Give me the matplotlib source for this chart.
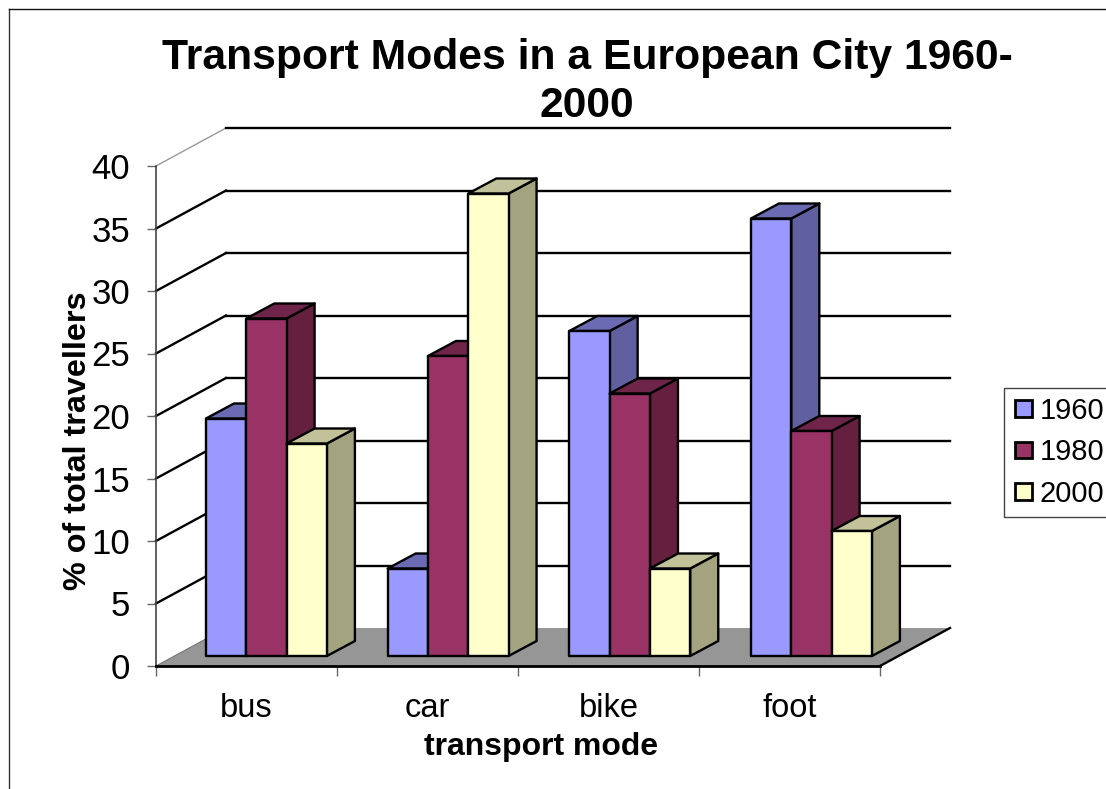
import matplotlib
matplotlib.use("Agg")
import matplotlib.pyplot as plt
from matplotlib.legend_handler import HandlerPatch
from matplotlib.lines import Line2D
from matplotlib.patches import Patch, Polygon, Rectangle

modes = ["bus", "car", "bike", "foot"]
years = ["1960", "1980", "2000"]
v1960 = [19, 7, 26, 35]
v1980 = [27, 24, 21, 18]
v2000 = [17, 37, 7, 10]
yticks = [0, 5, 10, 15, 20, 25, 30, 35, 40]

front_colors = ["#9999FF", "#993366", "#FFFFCC"]
side_colors = ["#6060A0", "#66203F", "#A3A37F"]
top_colors = ["#6B6BB3", "#6F2449", "#C2C29A"]

W, H = 1106, 789
plt.rcParams["font.family"] = ["Liberation Sans", "DejaVu Sans"]

fig = plt.figure(figsize=(W / 100, H / 100), dpi=100)
ax = fig.add_axes([156 / W, 1 - 666 / H, (880 - 156) / W, 500 / H])
ax.set_xlim(0, len(modes))
ax.set_ylim(0, 40)
ax.patch.set_alpha(0)

# depth offsets of the fake 3D box, in data units
wall_dx, wall_dy = 70 / 181, 38 / 12.5
bar_dx0, bar_dy0 = 18 / 181, 10 / 12.5
bar_dx, bar_dy = 28 / 181, 15 / 12.5
gap = 32 / 181
bar_w = 40.3 / 181
pitch = 181.67 / 181
lw = 1.7

n = len(modes)
floor = [(0, 0), (n, 0), (n + wall_dx, wall_dy), (wall_dx, wall_dy)]
ax.add_patch(Polygon(floor, closed=True, fc="#969696", ec="none", clip_on=False, zorder=1))
ax.plot([0, wall_dx], [0, wall_dy], color="#777777", lw=0.8, clip_on=False, zorder=1.2)
ax.plot([n, n + wall_dx], [0, wall_dy], color="black", lw=lw, clip_on=False, zorder=1.2)

for t in yticks[1:]:
    c = "#999999" if t == 40 else "black"
    ax.plot([0, wall_dx], [t, t + wall_dy], color=c, lw=1.0 if t == 40 else lw, clip_on=False, zorder=1.5)
    ax.plot([wall_dx, n + wall_dx], [t + wall_dy, t + wall_dy], color="black", lw=lw, clip_on=False, zorder=1.5)

z = 3
for i in range(n):
    for j, vals in enumerate([v1960, v1980, v2000]):
        x0 = i * pitch + bar_dx0 + gap + j * bar_w
        y0 = bar_dy0
        x1 = x0 + bar_w
        y1 = y0 + vals[i]
        side = [(x1, y0), (x1 + bar_dx, y0 + bar_dy), (x1 + bar_dx, y1 + bar_dy), (x1, y1)]
        top = [(x0, y1), (x1, y1), (x1 + bar_dx, y1 + bar_dy), (x0 + bar_dx, y1 + bar_dy)]
        front = [(x0, y0), (x1, y0), (x1, y1), (x0, y1)]
        for pts, col in [(side, side_colors[j]), (top, top_colors[j]), (front, front_colors[j])]:
            ax.add_patch(Polygon(pts, closed=True, fc=col, ec="black", lw=lw, joinstyle="round",
                                 clip_on=False, zorder=z))
        z += 0.1

for s in ["top", "right"]:
    ax.spines[s].set_visible(False)
ax.spines["left"].set_color("#444444")
ax.spines["left"].set_linewidth(1.2)
ax.spines["bottom"].set_color("black")
ax.spines["bottom"].set_linewidth(2.0)

ax.set_yticks(yticks)
ax.tick_params(axis="y", length=6.5, width=1.0, color="#666666", labelsize=25, pad=12)
ax.set_xticks(range(n + 1))
ax.set_xticklabels([])
ax.tick_params(axis="x", which="major", length=7.5, width=1.0, color="#666666")
ax.set_xticks([i + 0.5 for i in range(n)], labels=modes, minor=True)
ax.tick_params(axis="x", which="minor", length=0, labelsize=23.5, pad=19.5)

fig.text(587 / W, 1 - 82 / H, "Transport Modes in a European City 1960-\n2000", ha="center", va="center",
         fontsize=30.7, fontweight="bold", linespacing=1.23, color="black")
fig.text(541 / W, 1 - 747 / H, "transport mode", ha="center", va="center", fontsize=23, fontweight="bold")
fig.text(78 / W, 1 - 441 / H, "% of total travellers", ha="center", va="center", rotation=90,
         fontsize=23.3, fontweight="bold")


def small_square(legend, orig_handle, xdescent, ydescent, width, height, fontsize):
    # square sits at the right of the handle box, leaving a wider left margin
    return Rectangle((width - height - xdescent, -ydescent), height, height)


handles = [Patch(fc=front_colors[k], ec="black", lw=2.0) for k in range(3)]
fig.legend(handles, years, loc="upper left", bbox_to_anchor=(1004 / W, 1 - 388 / H), borderaxespad=0,
           fontsize=21, fancybox=False, framealpha=1, edgecolor="#444444", handlelength=0.66, handleheight=0.5,
           handletextpad=0.25, labelspacing=0.47, borderpad=0.3,
           handler_map={Patch: HandlerPatch(patch_func=small_square)})

# slide frame, only the left and top edges are in the crop
fig.add_artist(Line2D([9 / W, 9 / W], [0, 1 - 9 / H], color="#333333", lw=1.0))
fig.add_artist(Line2D([9 / W, 1], [1 - 9 / H, 1 - 9 / H], color="#111111", lw=1.0))

fig.savefig("out.png", dpi=100)
